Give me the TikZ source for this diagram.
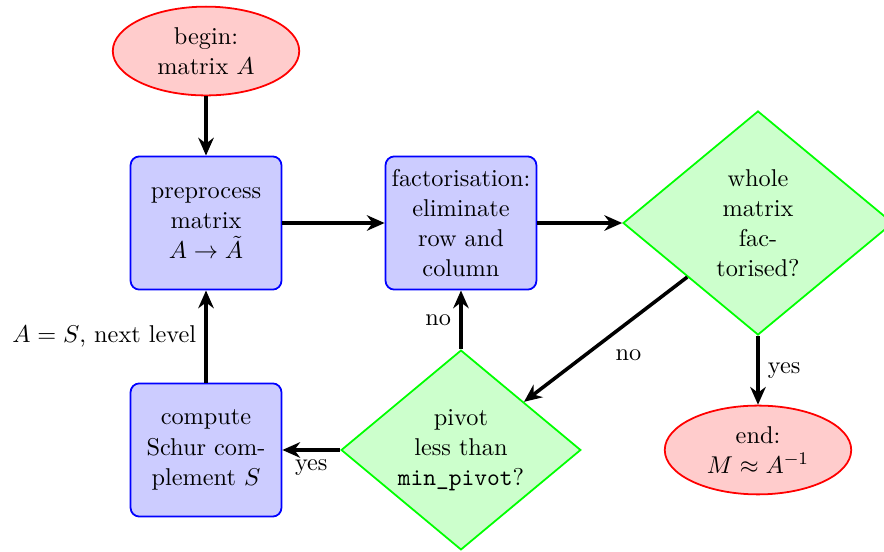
\documentclass[11pt,tikz,border=0pt]{standalone}
\usepackage{amsmath,amssymb}
\usepackage{tikz}
\usepackage{xcolor}
\usetikzlibrary{arrows.meta, shapes.geometric}

\tikzset{
  block/.style={rectangle, draw=blue, thick, fill=blue!20, rounded corners,
    align=center, minimum width=68pt, minimum height=60pt, inner sep=1pt},
  decision/.style={diamond, draw=green, thick, fill=green!20, aspect=1.2,
    align=center, inner sep=0pt},
  terminal/.style={ellipse, draw=red, thick, fill=red!20, align=center,
    minimum width=84pt, minimum height=40pt, inner sep=0pt},
  flow/.style={draw, ultra thick, -{Stealth[length=8pt,width=7pt]}}
}

\begin{document}
\begin{tikzpicture}[scale=1.0]
  \useasboundingbox (-3.262,-5.209) rectangle (10.735,3.531);

  % Start and preprocessing
  \node[terminal] (begin) at (0,2.723) {begin:\\ matrix $A$};
  \node[block] (prep) at (0,0) {preprocess\\ matrix\\ $A \to \tilde{A}$};

  % Elimination step
  \node[block] (elim) at (4.037,0) {factorisation:\\ eliminate\\ row and\\ column};
  \node[decision, minimum width=121.6pt, minimum height=100.9pt] (done)
    at (8.740,0) {whole\\ matrix\\ fac-\\ torised?};

  % Lower row
  \node[block] (schur) at (0,-3.594) {compute\\ Schur com-\\ plement $S$};
  \node[decision, minimum width=108pt, minimum height=90pt] (pivot)
    at (4.037,-3.594) {pivot\\ less than\\ \texttt{min\_pivot}?};
  \node[terminal] (end) at (8.740,-3.594) {end:\\ $M \approx A^{-1}$};

  % Connections
  \draw[flow] (begin) -- (prep);
  \draw[flow] (prep) -- (elim);
  \draw[flow] (elim) -- (done);
  \draw[flow] (done) -- node[midway, below right] {no} (pivot);
  \draw[flow] (done) -- node[midway, right] {yes} (end);
  \draw[flow] (pivot) -- node[midway, left] {no} (elim);
  \draw[flow] (pivot) -- node[midway, below] {yes} (schur);
  \draw[flow] (schur) -- node[midway, left] {$A = S$, next level} (prep);
\end{tikzpicture}
\end{document}
